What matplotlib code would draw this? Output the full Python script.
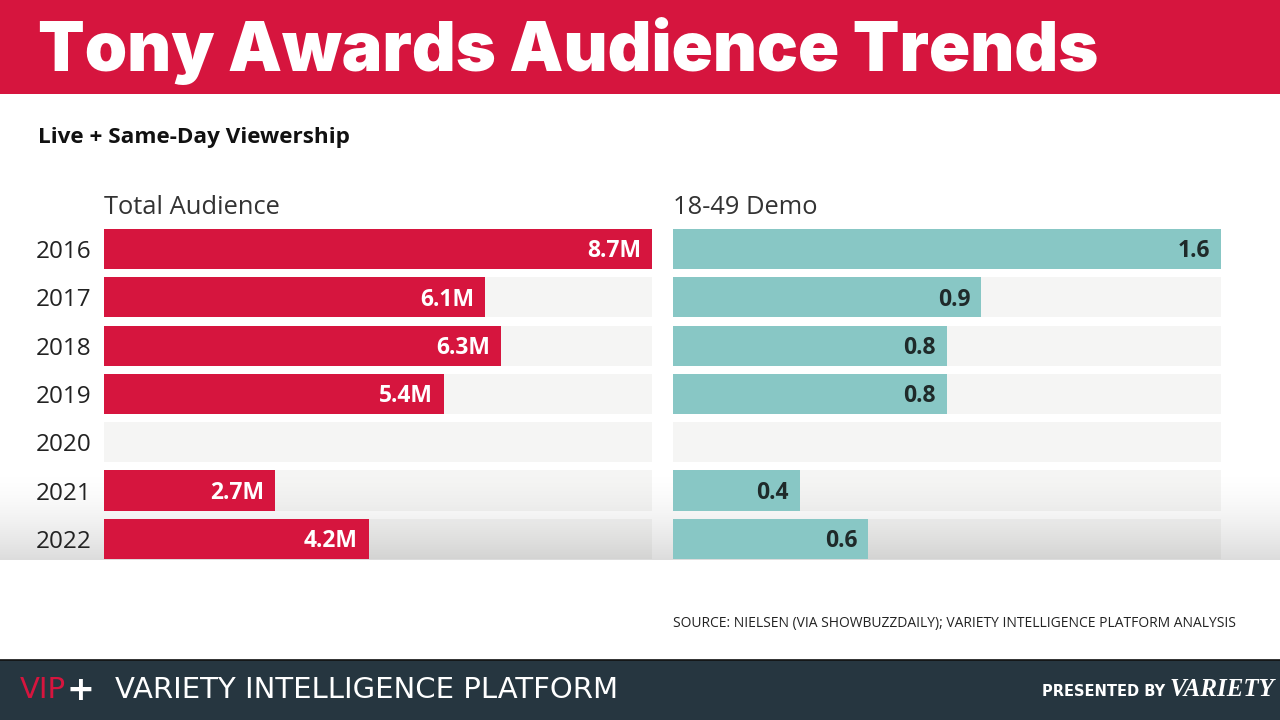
import numpy as np
import matplotlib
matplotlib.use("Agg")
import matplotlib.pyplot as plt
from matplotlib import font_manager

# data
years = ["2016", "2017", "2018", "2019", "2020", "2021", "2022"]
total_audience = [8.7, 6.05, 6.3, 5.4, np.nan, 2.72, 4.2]
total_labels = ["8.7M", "6.1M", "6.3M", "5.4M", "", "2.7M", "4.2M"]
demo_rating = [1.6, 0.9, 0.8, 0.8, np.nan, 0.37, 0.57]
demo_labels = ["1.6", "0.9", "0.8", "0.8", "", "0.4", "0.6"]

RED = "#D6153E"
TEAL = "#88C7C5"
FOOT = "#263640"
W, H = 1280, 720


def has_font(name):
    return any(f.name == name for f in font_manager.fontManager.ttflist)


narrow = "Liberation Sans Narrow" if has_font("Liberation Sans Narrow") else "DejaVu Sans"
BODY = "Open Sans"

fig = plt.figure(figsize=(W / 100, H / 100), dpi=100)
fig.patch.set_facecolor("white")


def px_axes(x0, y0, x1, y1, **kw):
    # axes from pixel box (top-left origin)
    return fig.add_axes([x0 / W, 1 - y1 / H, (x1 - x0) / W, (y1 - y0) / H], **kw)


# background axes for bands and the bottom shading
bg = px_axes(0, 0, W, H, zorder=-5)
bg.set_xlim(0, W)
bg.set_ylim(H, 0)
bg.axis("off")
bg.add_patch(plt.Rectangle((0, 0), W, 94, color=RED, lw=0))
bg.add_patch(plt.Rectangle((0, 660), W, 60, color=FOOT, lw=0))
bg.plot([0, W], [660, 660], color="#111111", lw=1.2)

grad = np.linspace(0, 1, 100) ** 1.7
shade = np.zeros((100, 1, 4))
shade[:, 0, 3] = grad * 0.14
bg.imshow(shade, extent=(0, W, 560, 465), aspect="auto", zorder=1)

fig.text(38 / W, 1 - 51 / H, "Tony Awards Audience Trends", color="white",
         fontsize=49, fontweight="black", family="Inter", va="center", ha="left")
fig.text(38 / W, 1 - 137 / H, "Live + Same-Day Viewership", color="#111111",
         fontsize=16.2, fontweight="bold", family=BODY, va="center")


def panel(x0, x1, values, labels, color, label_color, header, show_years):
    ax = px_axes(x0, 224.85, x1, 562.95)
    ax.set_facecolor("none")
    vmax = np.nanmax(values)
    y = np.arange(len(years))
    # translucent track so the bottom shading shows through
    ax.barh(y, [vmax] * len(y), height=0.83, color="#20200a", alpha=0.045,
            lw=0, zorder=1)
    ax.barh(y, values, height=0.83, color=color, lw=0, zorder=3)
    ax.set_xlim(0, vmax)
    ax.set_ylim(len(years) - 0.5, -0.5)
    for i, (v, lab) in enumerate(zip(values, labels)):
        if lab:
            ax.text(v - vmax * 0.02, i + 0.05, lab, color=label_color,
                    fontsize=16.5, fontweight="bold", family=BODY, ha="right",
                    va="center", zorder=4)
    ax.set_yticks(y)
    if show_years:
        ax.set_yticklabels(years, fontsize=17.5, color="#222222", family=BODY)
    else:
        ax.set_yticklabels([])
    ax.tick_params(length=0, pad=9)
    ax.set_xticks([])
    for s in ax.spines.values():
        s.set_visible(False)
    fig.text(x0 / W, 1 - 207 / H, header, fontsize=18.4, color="#333333",
             family=BODY, va="center", ha="left")
    return ax


panel(104, 652, total_audience, total_labels, RED, "white", "Total Audience", True)
panel(673, 1221, demo_rating, demo_labels, TEAL, "#1f2a2a", "18-49 Demo", False)

fig.text(1236 / W, 1 - 624 / H,
         "SOURCE: NIELSEN (VIA SHOWBUZZDAILY); VARIETY INTELLIGENCE PLATFORM ANALYSIS",
         fontsize=10, color="#222222", family=BODY, ha="right", va="center")

# footer
fig.text(20 / W, 1 - 690 / H, "VIP", color=RED, fontsize=21, family=narrow,
         va="center", ha="left")
fig.text(67 / W, 1 - 690 / H, "+", color="white", fontsize=24, family=narrow,
         fontweight="bold", va="center", ha="left")
fig.text(115 / W, 1 - 690 / H, "VARIETY INTELLIGENCE PLATFORM", color="white",
         fontsize=21, family=narrow, va="center", ha="left")
fig.text(1165 / W, 1 - 692 / H, "PRESENTED BY", color="white", fontsize=10.5,
         family=narrow, fontweight="bold", va="center", ha="right")
fig.text(1170 / W, 1 - 690 / H, "VARIETY", color="white", fontsize=18,
         family="Liberation Serif", fontweight="bold", style="italic",
         va="center", ha="left")

fig.savefig("out.png", dpi=100, facecolor="white")
